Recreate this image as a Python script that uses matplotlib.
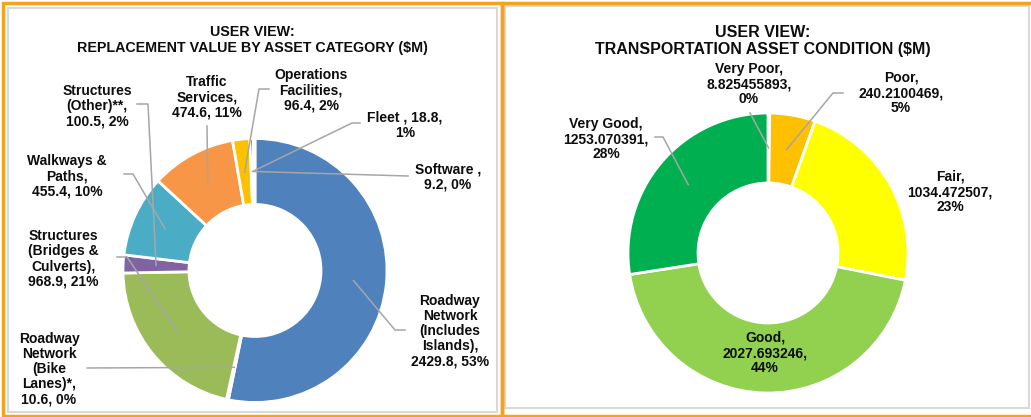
import matplotlib.pyplot as plt
from matplotlib.patches import Rectangle
import numpy as np

plt.rcParams['font.family'] = ['Liberation Sans', 'DejaVu Sans']

W, H = 1031, 417

# replacement value by asset category ($M), clockwise from 12 o'clock
cat_names = ['Roadway\nNetwork\n(Includes\nIslands)', 'Roadway\nNetwork\n(Bike\nLanes)*',
             'Structures\n(Bridges &\nCulverts)', 'Structures\n(Other)**', 'Walkways &\nPaths',
             'Traffic\nServices', 'Operations\nFacilities', 'Fleet ', 'Software ']
cat_values = [2429.8, 10.6, 968.9, 100.5, 455.4, 474.6, 96.4, 18.8, 9.2]
cat_pct = ['53%', '0%', '21%', '2%', '10%', '11%', '2%', '1%', '0%']
cat_colors = ['#4F81BD', '#C0504D', '#9BBB59', '#8064A2', '#4BACC6',
              '#F79646', '#FFC000', '#2C4D75', '#772C2A']

# transportation asset condition ($M)
cond_names = ['Very Poor', 'Poor', 'Fair', 'Good', 'Very Good']
cond_values = [8.825455893, 240.2100469, 1034.472507, 2027.693246, 1253.070391]
cond_pct = ['0%', '5%', '23%', '44%', '28%']
cond_colors = ['#FF0000', '#FFC000', '#FFFF00', '#92D050', '#00B050']

# label layout (pixel coords, y down): text centre, separators, leader start + elbow
cat_layout = [
    dict(xy=(450, 331), seps=(',\n', ', '), lead=[(405, 330), (395, 330)]),
    dict(xy=(49, 369), seps=(',\n', ', '), lead=[(87, 368)]),
    dict(xy=(63, 259), seps=(',\n', ', '), lead=[(117, 257), (127, 257)]),
    dict(xy=(97, 106), seps=(',\n', ', '), lead=[(137, 104), (148, 104)]),
    dict(xy=(67, 176), seps=(',\n', ', '), lead=[(124, 174), (133, 174)]),
    dict(xy=(207, 97), seps=(',\n', ', '), lead=[(207, 126)]),
    dict(xy=(311, 90), seps=(',\n', ', '), lead=[(269, 89), (259, 89)]),
    dict(xy=(405, 125), seps=(', ', ',\n'), lead=[(360, 123), (352, 123)]),
    dict(xy=(448, 177), seps=(',\n', ', '), lead=[(408, 176)]),
]
cond_layout = [
    dict(xy=(749, 84), lead=[(750, 113)]),
    dict(xy=(901, 93), lead=[(843, 93), (833, 93)]),
    dict(xy=(950, 192), lead=None),
    dict(xy=(765, 353), lead=None),
    dict(xy=(606, 139), lead=[(655, 137), (663, 137)]),
]

fig = plt.figure(figsize=(W / 100, H / 100), dpi=100)
ax = fig.add_axes([0, 0, 1, 1])


def P(x, y):
    return x, H - y


def donut(center, radius, values, colors):
    wedges, _ = ax.pie(values, colors=colors, startangle=90, counterclock=False,
                       center=P(*center), radius=radius, frame=True,
                       wedgeprops=dict(width=radius * 0.5, edgecolor='white', linewidth=2))
    return wedges


def leader(wedge, center, radius, pts):
    ang = np.deg2rad((wedge.theta1 + wedge.theta2) / 2)
    rm = radius * 0.75
    cx, cy = P(*center)
    end = (cx + rm * np.cos(ang), cy + rm * np.sin(ang))
    xs = [P(*p)[0] for p in pts] + [end[0]]
    ys = [P(*p)[1] for p in pts] + [end[1]]
    ax.plot(xs, ys, color='#A6A6A6', lw=1.1, zorder=5)


# panel frames
for x0, y0, x1, y1 in [(8, 8, 497, 412), (505, 6, 1029, 408)]:
    ax.add_patch(Rectangle(P(x0, y1), x1 - x0, y1 - y0, fill=False, ec='#D9D9D9', lw=1.5))
for x0, y0, x1, y1 in [(3, 3, 501.5, 415.5), (501.5, 3, 1035, 415.5)]:
    ax.add_patch(Rectangle(P(x0, y1), x1 - x0, y1 - y0, fill=False, ec='#F5A31A', lw=2.5))

# left donut
c1, r1 = (255, 270.5), 132
w1 = donut(c1, r1, cat_values, cat_colors)
for w, name, v, pct, lay in zip(w1, cat_names, cat_values, cat_pct, cat_layout):
    s1, s2 = lay['seps']
    ax.text(*P(*lay['xy']), f"{name}{s1}{v:.1f}{s2}{pct}", ha='center', va='center',
            fontsize=10, fontweight='bold', linespacing=1.1, color='#0D0D0D')
    leader(w, c1, r1, lay['lead'])

ax.text(*P(252, 40), 'USER VIEW:\nREPLACEMENT VALUE BY ASSET CATEGORY ($M)', ha='center',
        va='center', fontsize=10.3, fontweight='bold', linespacing=1.1, color='#0D0D0D')

# right donut
c2, r2 = (768, 253), 140
w2 = donut(c2, r2, cond_values, cond_colors)
for w, name, v, pct, lay in zip(w2, cond_names, cond_values, cond_pct, cond_layout):
    ax.text(*P(*lay['xy']), f"{name},\n{v},\n{pct}", ha='center', va='center',
            fontsize=10, fontweight='bold', linespacing=1.1, color='#0D0D0D')
    if lay['lead']:
        leader(w, c2, r2, lay['lead'])

ax.text(*P(763, 41), 'USER VIEW:\nTRANSPORTATION ASSET CONDITION ($M)', ha='center',
        va='center', fontsize=11.5, fontweight='bold', linespacing=1.1, color='#0D0D0D')

ax.set_xlim(0, W)
ax.set_ylim(0, H)
ax.set_aspect('auto')
ax.axis('off')

fig.savefig('out.png', dpi=100)
